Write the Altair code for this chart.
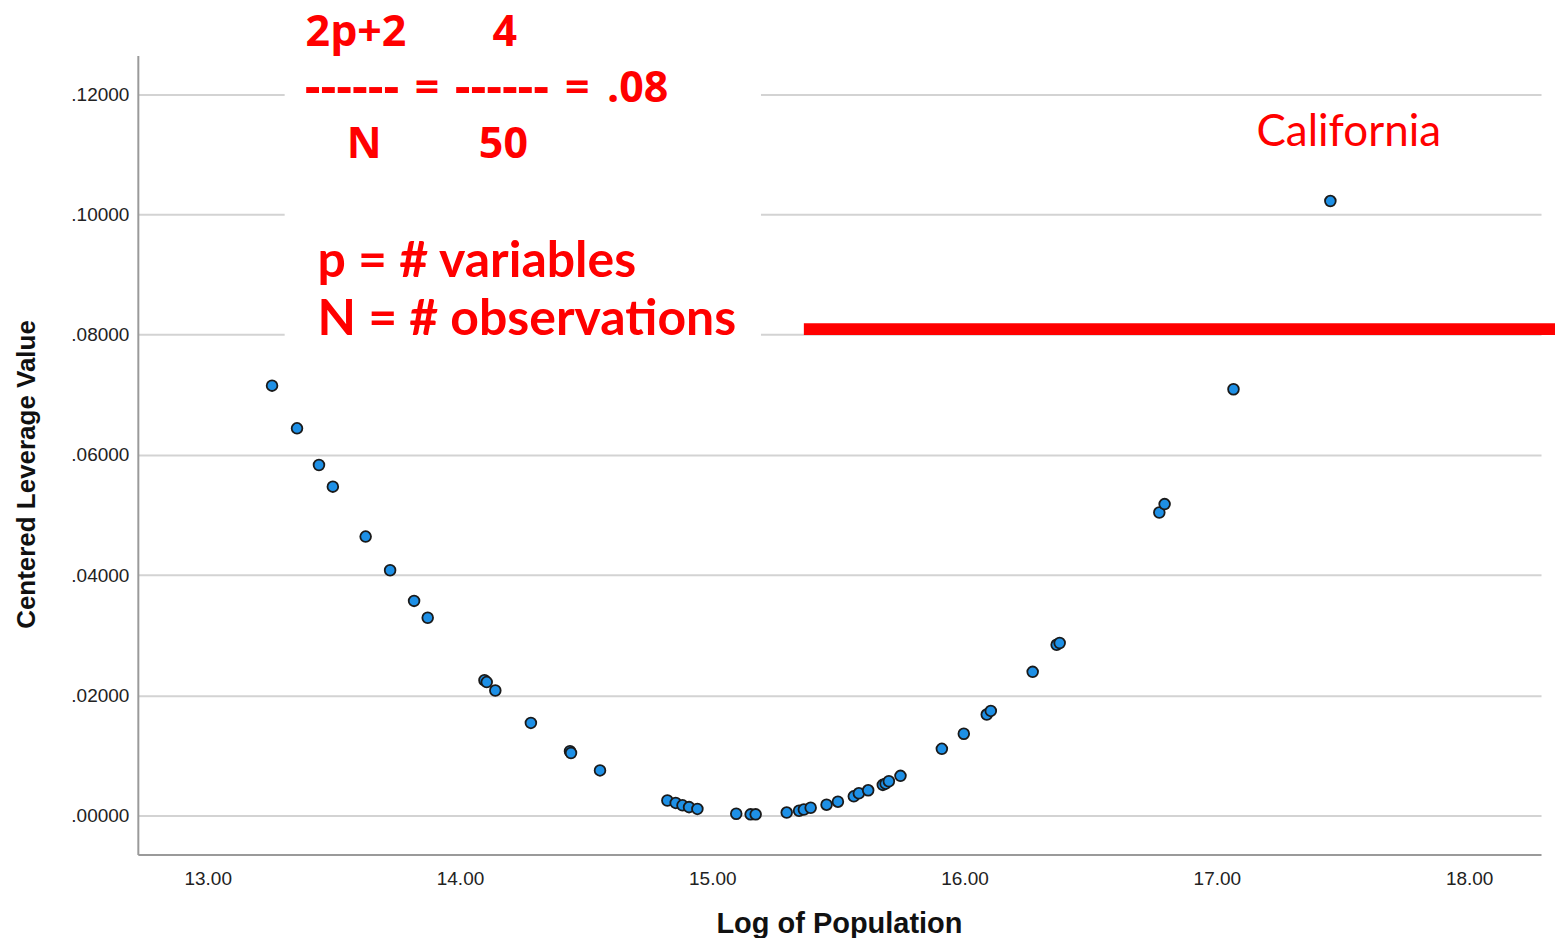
import altair as alt
import pandas as pd

# ---- data ----
log_pop = [13.255, 13.354, 13.441, 13.496, 13.626, 13.723, 13.818, 13.872,
           14.097, 14.106, 14.140, 14.281, 14.436, 14.440, 14.555,
           14.822, 14.855, 14.882, 14.908, 14.941,
           15.095, 15.152, 15.172,
           15.295, 15.344, 15.363, 15.390, 15.453, 15.498,
           15.561, 15.581, 15.618, 15.676, 15.687, 15.700, 15.746,
           15.910, 15.997, 16.088, 16.104, 16.270, 16.365, 16.377,
           16.772, 16.793, 17.066, 17.450]
leverage = [0.0715, 0.0644, 0.0583, 0.0547, 0.0464, 0.0408, 0.0357, 0.0329,
            0.0225, 0.0222, 0.0208, 0.0154, 0.0107, 0.0104, 0.0075,
            0.0025, 0.0021, 0.0017, 0.0014, 0.0011,
            0.0003, 0.0002, 0.0002,
            0.0005, 0.0008, 0.0010, 0.0013, 0.0018, 0.0023,
            0.0032, 0.0037, 0.0042, 0.0051, 0.0053, 0.0057, 0.0066,
            0.0111, 0.0136, 0.0168, 0.0174, 0.0239, 0.0284, 0.0287,
            0.0504, 0.0518, 0.0709, 0.1022]

x_ticks = [13, 14, 15, 16, 17, 18]
y_ticks = [0.0, 0.02, 0.04, 0.06, 0.08, 0.10, 0.12]

# cutoff line 2(p+1)/N = .08 annotation
cutoff_x = [15.363]
cutoff_x2 = [18.364]
cutoff_y = [0.0809]

# white panel behind the formula text
panel_x = [13.305]
panel_x2 = [15.193]
panel_y = [0.0790]
panel_y2 = [0.1264]

# formula pieces (centered)
formula_labels = ["4", "=", "=", ".08", "N", "50"]
formula_x = [14.178, 13.869, 14.465, 14.704, 13.620, 14.172]
formula_y = [0.1280, 0.1187, 0.1187, 0.1187, 0.1093, 0.1093]
dash_labels = ["------", "------"]
dash_x = [13.572, 14.166]
dash_y = [0.1185, 0.1185]
formula_left_labels = ["2p+2"]
formula_left_x = [13.388]
formula_left_y = [0.1280]

legend_labels = ["p = # variables", "N = # observations"]
legend_x = [13.4355, 13.4355]
legend_y = [0.0895, 0.0799]

outlier_label = ["California"]
outlier_x = [17.157]
outlier_y = [0.1114]

# ---- scales / axes ----
xscale = alt.Scale(domain=[12.723, 18.285], nice=False, zero=False)
yscale = alt.Scale(domain=[-0.00648, 0.1264], nice=False, zero=False)

xaxis = alt.Axis(values=x_ticks, format=".2f", grid=False, ticks=False,
                 labelPadding=15, labelFontSize=19, labelFont="Liberation Sans",
                 labelColor="#222222", domainColor="#9a9a9a", domainWidth=2,
                 title="Log of Population", titleFont="Liberation Sans",
                 titleFontSize=29, titleFontWeight="bold", titleColor="#111111",
                 titleX=702, titleY=78, titleAlign="center",
                 titleBaseline="alphabetic")
yaxis = alt.Axis(values=y_ticks,
                 labelExpr="substring(format(datum.value, '.5f'), 1)",
                 grid=True, gridColor="#d3d3d3", gridWidth=2, ticks=False,
                 labelPadding=9, labelFontSize=19, labelFont="Liberation Sans",
                 labelColor="#222222", domainColor="#9a9a9a", domainWidth=2,
                 title="Centered Leverage Value", titleFont="Liberation Sans",
                 titleFontSize=26, titleFontWeight="bold", titleColor="#111111",
                 titleAngle=270, titleX=-111, titleY=419, titleAlign="center",
                 titleBaseline="middle")


def X(field="x"):
    return alt.X(f"{field}:Q", scale=xscale, axis=xaxis)


def Y(field="y"):
    return alt.Y(f"{field}:Q", scale=yscale, axis=yaxis)


pts_df = pd.DataFrame({"x": log_pop, "y": leverage})
panel_df = pd.DataFrame({"x": panel_x, "x2": panel_x2, "y": panel_y, "y2": panel_y2})
cut_df = pd.DataFrame({"x": cutoff_x, "x2": cutoff_x2, "y": cutoff_y})
form_df = pd.DataFrame({"x": formula_x, "y": formula_y, "label": formula_labels})
dash_df = pd.DataFrame({"x": dash_x, "y": dash_y, "label": dash_labels})
formL_df = pd.DataFrame({"x": formula_left_x, "y": formula_left_y, "label": formula_left_labels})
leg_df = pd.DataFrame({"x": legend_x, "y": legend_y, "label": legend_labels})
out_df = pd.DataFrame({"x": outlier_x, "y": outlier_y, "label": outlier_label})

panel = alt.Chart(panel_df).mark_rect(color="white", opacity=1).encode(
    x=X(), x2="x2", y=Y(), y2="y2")

cut = alt.Chart(cut_df).mark_rule(color="#ff0000", strokeWidth=12, clip=False,
                                  strokeCap="butt").encode(
    x=X(), x2="x2", y=Y())

pts = alt.Chart(pts_df).mark_circle(size=115, color="#1e90e6", opacity=1,
                                    stroke="#1a1a1a", strokeWidth=1.8).encode(
    x=X(), y=Y())

form = alt.Chart(form_df).mark_text(font="Open Sans", fontWeight="bold",
                                    fontSize=43, color="#ff0000", align="center",
                                    baseline="alphabetic").encode(
    x=X(), y=Y(), text="label:N")

dash = alt.Chart(dash_df).mark_text(font="Open Sans", fontWeight="bold",
                                    fontSize=49, color="#ff0000", align="center",
                                    baseline="alphabetic").encode(
    x=X(), y=Y(), text="label:N")

formL = alt.Chart(formL_df).mark_text(font="Open Sans", fontWeight="bold",
                                      fontSize=43, color="#ff0000", align="left",
                                      baseline="alphabetic").encode(
    x=X(), y=Y(), text="label:N")

leg = alt.Chart(leg_df).mark_text(font="Lato", fontWeight="bold", fontSize=50,
                                  color="#ff0000", align="left",
                                  baseline="alphabetic").encode(
    x=X(), y=Y(), text="label:N")

outl = alt.Chart(out_df).mark_text(font="Lato", fontSize=44, color="#ff0000",
                                   align="left", baseline="alphabetic").encode(
    x=X(), y=Y(), text="label:N")

chart = alt.layer(panel, cut, pts, form, dash, formL, leg, outl).properties(
    width=1405, height=800,
    autosize=alt.AutoSizeParams(type="none"),
    padding={"left": 130, "top": 47, "right": 14, "bottom": 83},
    background="white",
).configure_view(strokeWidth=0)

chart.save("out.html", embed_options={"renderer": "svg", "actions": False})
